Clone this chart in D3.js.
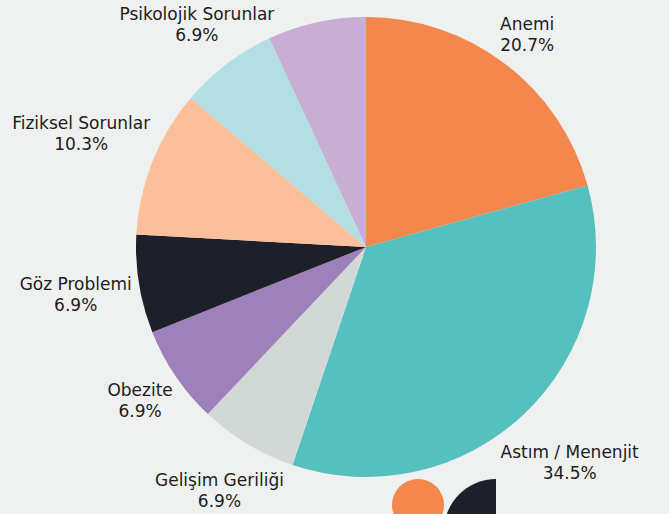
<!DOCTYPE html>
<html>
<head>
<meta charset="utf-8">
<script src="https://cdn.jsdelivr.net/npm/d3@7"></script>
<style>
  html, body { margin: 0; padding: 0; background: #eff1f0; }
  svg { display: block; }
  .lbl { font-family: 'DejaVu Sans', sans-serif; font-size: 17px; fill: #1c1c1c; }
</style>
</head>
<body>
<svg id="container" width="669" height="514"></svg>
<script>
const categories = ['Anemi', 'Astım / Menenjit', 'Gelişim Geriliği', 'Obezite', 'Göz Problemi', 'Fiziksel Sorunlar', 'Psikolojik Sorunlar', 'Diğer']
const counts = [6, 10, 2, 2, 2, 3, 2, 2]
const showLabel = [true, true, true, true, true, true, true, false]
const colors = ['#f4874b', '#56c0bf', '#d2d8d5', '#9e80ba', '#1e2029', '#fbc09b', '#b3dfe4', '#c8aed3']

const cx = 366, cy = 247, r = 230
const svg = d3.select('#container')

// decorative shapes at the bottom
svg.append('circle').attr('cx', 418).attr('cy', 505).attr('r', 26).attr('fill', '#f4874b')
svg.append('path')
  .attr('transform', 'translate(496, 531)')
  .attr('d', d3.arc()({ innerRadius: 0, outerRadius: 52, startAngle: -Math.PI / 2, endAngle: 0 }))
  .attr('fill', '#1e2029')

const data = categories.map((c, i) => ({ name: c, value: counts[i], color: colors[i], show: showLabel[i] }))
const total = d3.sum(counts)

const pie = d3.pie().value((d) => d.value).sort(null)
const arc = d3.arc().innerRadius(0).outerRadius(r)

const g = svg.append('g').attr('transform', `translate(${cx}, ${cy})`)

g.selectAll('path.slice')
  .data(pie(data))
  .enter()
  .append('path')
  .attr('class', 'slice')
  .attr('d', arc)
  .attr('fill', (d) => d.data.color)

// labels: two lines, box pushed out along the mid angle until it clears the pie
const lineH = 21
const labels = g.selectAll('g.lbl')
  .data(pie(data).filter((d) => d.data.show))
  .enter()
  .append('g')

labels.append('text')
  .attr('class', 'lbl')
  .attr('text-anchor', 'middle')
  .selectAll('tspan')
  .data((d) => [d.data.name, `${((d.data.value / total) * 100).toFixed(1)}%`])
  .enter()
  .append('tspan')
  .attr('x', 0)
  .attr('y', (d, i) => i * lineH)
  .text((d) => d)

labels.each(function (d) {
  const box = this.getBBox()
  const a = (d.startAngle + d.endAngle) / 2
  const s = Math.sin(a), c = -Math.cos(a)
  let dist = 236 + Math.abs(s) * box.width / 2 + Math.abs(c) * (box.height - 6) / 2
  // keep the box inside the top edge by sliding it back along the ray
  const top = cy + dist * c - box.height / 2
  if (c < 0 && top < 4) dist = (cy - 4 - box.height / 2) / -c
  const dx = dist * s - (box.x + box.width / 2)
  const dy = dist * c - (box.y + box.height / 2)
  d3.select(this).attr('transform', `translate(${dx}, ${dy})`)
})
</script>
</body>
</html>
